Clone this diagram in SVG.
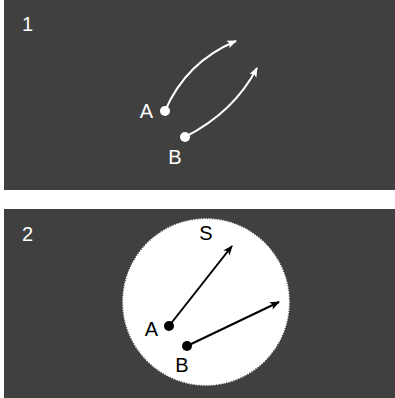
<svg xmlns="http://www.w3.org/2000/svg" width="395" height="398" viewBox="0 0 395 398">
<defs>
<style>
.panel{fill:#404040}
.lbl{font-family:"Liberation Sans",Arial,sans-serif;font-size:20px}
.w{fill:#fff}
.k{fill:#000}
.cw{fill:none;stroke:#fff;stroke-width:2}
.ck{fill:none;stroke:#000;stroke-width:2}
</style>
<marker id="aw" viewBox="0 0 10 8" refX="9" refY="4" markerWidth="10" markerHeight="8" markerUnits="userSpaceOnUse" orient="auto"><path d="M0,0 L10,4 L0,8 L2.5,4 Z" fill="#fff"/></marker>
<marker id="ak" viewBox="0 0 10 8" refX="9" refY="4" markerWidth="11" markerHeight="8" markerUnits="userSpaceOnUse" orient="auto"><path d="M0,0 L10,4 L0,8 L2.5,4 Z" fill="#000"/></marker>
</defs>
<rect class="panel" x="4" y="0" width="391" height="190"/>
<rect class="panel" x="4" y="209" width="391" height="189"/>
<text class="lbl w" x="22" y="31">1</text>
<text class="lbl w" x="22" y="241">2</text>
<g id="circleS"><circle cx="206" cy="302" r="83" fill="#fff" stroke="#fff" stroke-width="1.5" stroke-dasharray="1.5 1"/></g>
<g id="connectors">
<path class="cw" d="M165,111 Q186,62 236,41" marker-end="url(#aw)"/>
<path class="cw" d="M185,137 Q234,112 257,68" marker-end="url(#aw)"/>
<path class="ck" d="M169,326 L232,246" marker-end="url(#ak)"/>
<path class="ck" d="M187,346 L279,302" marker-end="url(#ak)"/>
</g>
<g id="A1"><circle cx="165" cy="111" r="5" fill="#fff"/><text class="lbl w" x="146.5" y="117.5" text-anchor="middle">A</text></g>
<g id="B1"><circle cx="185" cy="137" r="5" fill="#fff"/><text class="lbl w" x="175" y="163.5" text-anchor="middle">B</text></g>
<g id="A2"><circle cx="169" cy="326" r="5" fill="#000"/><text class="lbl k" x="151.5" y="335.5" text-anchor="middle">A</text></g>
<g id="B2"><circle cx="187" cy="346" r="5" fill="#000"/><text class="lbl k" x="182" y="371.5" text-anchor="middle">B</text></g>
<g id="S"><text class="lbl k" x="206" y="239.5" text-anchor="middle">S</text></g>
</svg>
